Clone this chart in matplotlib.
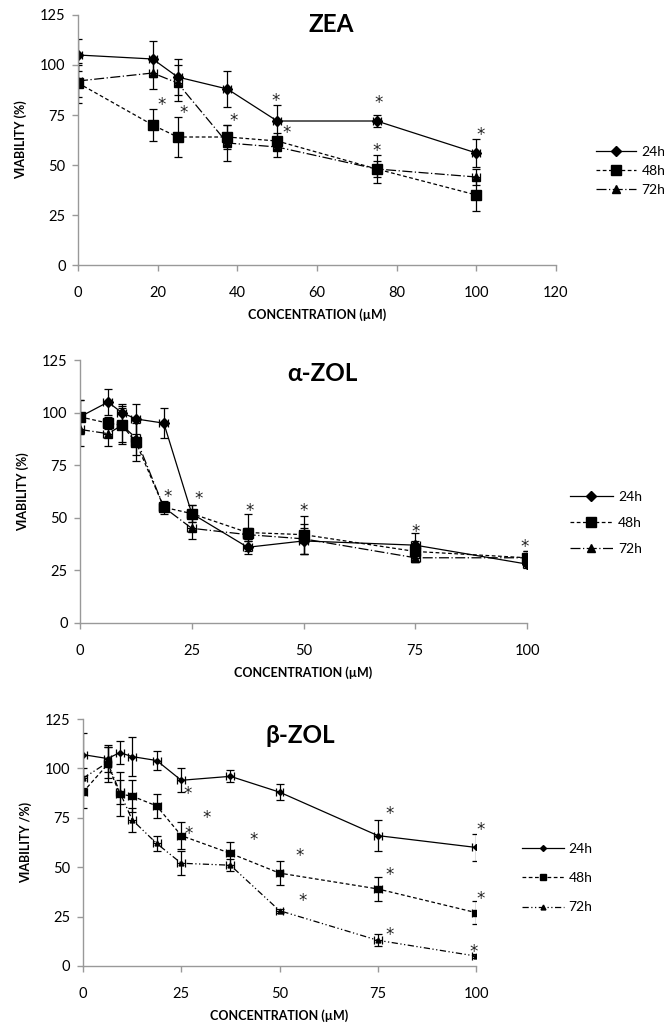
import numpy as np
import matplotlib.pyplot as plt
import matplotlib.transforms as mtrans
from matplotlib.lines import Line2D

plt.rcParams['font.family'] = ['Lato', 'Noto Sans', 'DejaVu Sans']

# ---- ZEA ----
zea_x = [0, 18.75, 25, 37.5, 50, 75, 100]
zea_24 = [105, 103, 94, 88, 72, 72, 56]
zea_24_err = [8, 9, 9, 9, 8, 3, 7]
zea_48 = [91, 70, 64, 64, 62, 48, 35]
zea_48_err = [10, 8, 10, 6, 4, 7, 8]
zea_72 = [92, 96, 91, 61, 59, 48, 44]
zea_72_err = [8, 8, 9, 9, 5, 4, 4]
zea_star_x = [21, 26.5, 39, 49.5, 52.5, 75.5, 75, 101]
zea_star_y = [82, 78, 74, 84, 68, 83, 59, 67]

# ---- alpha-ZOL ----
azol_x = [0, 6.25, 9.375, 12.5, 18.75, 25, 37.5, 50, 75, 100]
azol_24 = [98, 105, 100, 97, 95, 52, 36, 39, 37, 28]
azol_24_err = [8, 6, 4, 7, 7, 4, 3, 6, 6, 2]
azol_48 = [98, 95, 94, 86, 55, 52, 43, 42, 34, 31]
azol_48_err = [8, 3, 9, 9, 3, 4, 9, 9, 5, 3]
azol_72 = [92, 90, 94, 88, 55, 45, 42, 40, 31, 31]
azol_72_err = [8, 6, 8, 8, 2, 5, 3, 7, 2, 3]
azol_star_x = [19.5, 26.5, 38, 50, 75, 99.5]
azol_star_y = [62, 61, 55, 55, 45, 38]

# ---- beta-ZOL ----
bzol_x = [0, 6.25, 9.375, 12.5, 18.75, 25, 37.5, 50, 75, 100]
bzol_24 = [107, 105, 108, 106, 104, 94, 96, 88, 66, 60]
bzol_24_err = [11, 7, 6, 10, 5, 6, 3, 4, 8, 7]
bzol_48 = [88, 102, 87, 86, 81, 66, 57, 47, 39, 27]
bzol_48_err = [8, 9, 11, 8, 6, 7, 6, 6, 6, 6]
bzol_72 = [95, 103, 88, 74, 62, 52, 51, 28, 13, 5]
bzol_72_err = [5, 8, 6, 6, 4, 6, 3, 1, 3, 1]
bzol_star_x = [26.5, 31.5, 26.8, 43.3, 55.2, 55.9, 78, 101.3, 78, 101.3, 78, 99.5]
bzol_star_y = [89, 77, 69, 66, 58, 35, 79, 71, 48, 36, 18, 9]

series_labels = ['24h', '48h', '72h']

fig = plt.figure(figsize=(6.64, 10.34), dpi=100)

panels = [
    dict(rect=[0.1175, 0.7437, 0.7198, 0.2418], title='ZEA', x=zea_x,
         ys=[(zea_24, zea_24_err), (zea_48, zea_48_err), (zea_72, zea_72_err)],
         stars=(zea_star_x, zea_star_y), xlim=(0, 120), xticks=[0, 20, 40, 60, 80, 100, 120],
         ms=(5, 7, 6), title_xy=(0.53, 0.96), leg_xy=(1.058, 0.376), leg_sp=0.5,
         hl=2.9, ls72=(0, (8, 2, 1, 2)), ylabel='VIABILITY (%)'),
    dict(rect=[0.1205, 0.3975, 0.6732, 0.2543], title='α-ZOL', x=azol_x,
         ys=[(azol_24, azol_24_err), (azol_48, azol_48_err), (azol_72, azol_72_err)],
         stars=(azol_star_x, azol_star_y), xlim=(0, 100), xticks=[0, 25, 50, 75, 100],
         ms=(5, 7, 6), title_xy=(0.542, 0.95), leg_xy=(1.068, 0.38), leg_sp=1.0,
         hl=3.1, ls72=(0, (8, 2, 1, 2)), ylabel='VIABILITY (%)'),
    dict(rect=[0.125, 0.0658, 0.5919, 0.2388], title='β-ZOL', x=bzol_x,
         ys=[(bzol_24, bzol_24_err), (bzol_48, bzol_48_err), (bzol_72, bzol_72_err)],
         stars=(bzol_star_x, bzol_star_y), xlim=(0, 100), xticks=[0, 25, 50, 75, 100],
         ms=(3, 4.5, 3.5), title_xy=(0.552, 0.935), leg_xy=(1.085, 0.356), leg_sp=1.25,
         hl=3.0, ls72=(0, (5, 2, 1, 2, 1, 2)), ylabel='VIABILITY /%)'),
]

for p in panels:
    ax = fig.add_axes(p['rect'])
    styles = ['-', (0, (3, 2)), p['ls72']]
    markers = ['D', 's', '^']
    handles = []
    for (vals, err), ls, mk, ms, lab in zip(p['ys'], styles, markers, p['ms'], series_labels):
        ax.errorbar(p['x'], vals, yerr=err, xerr=1.0, color='black', linestyle=ls,
                    linewidth=0.9, marker=mk, markersize=ms, elinewidth=0.9,
                    capsize=3, capthick=0.9)
        handles.append(Line2D([], [], color='black', linestyle=ls, linewidth=0.9,
                              marker=mk, markersize=ms, label=lab))
    # asterisks (DejaVu glyph, shifted so its centre sits on the point)
    star_tr = mtrans.offset_copy(ax.transData, fig=fig, y=-6.6, units='points')
    for sx, sy in zip(*p['stars']):
        ax.text(sx, sy, '*', ha='center', va='baseline', fontsize=12,
                family='DejaVu Sans', color='#222222', transform=star_tr)
    ax.set_xlim(*p['xlim'])
    ax.set_ylim(0, 125)
    ax.set_xticks(p['xticks'])
    ax.set_yticks([0, 25, 50, 75, 100, 125])
    for s in ['top', 'right']:
        ax.spines[s].set_visible(False)
    for s in ['left', 'bottom']:
        ax.spines[s].set_color('#999999')
        ax.spines[s].set_linewidth(1)
    ax.tick_params(colors='#999999', labelcolor='black', labelsize=10.5, length=4, width=1)
    ax.tick_params(axis='x', pad=11)
    ax.tick_params(axis='y', pad=5)
    ax.set_xlabel('CONCENTRATION (µM)', fontsize=9, fontweight='bold', labelpad=6)
    ax.set_ylabel(p['ylabel'], fontsize=9, fontweight='bold', labelpad=9)
    ax.text(p['title_xy'][0], p['title_xy'][1], p['title'], transform=ax.transAxes,
            ha='center', va='center', fontsize=17.5, fontweight='bold')
    ax.legend(handles=handles, loc='center left', bbox_to_anchor=p['leg_xy'], frameon=False,
              fontsize=10, handlelength=p['hl'], labelspacing=p['leg_sp'], handletextpad=0.35)

fig.savefig('out.png', dpi=100)
